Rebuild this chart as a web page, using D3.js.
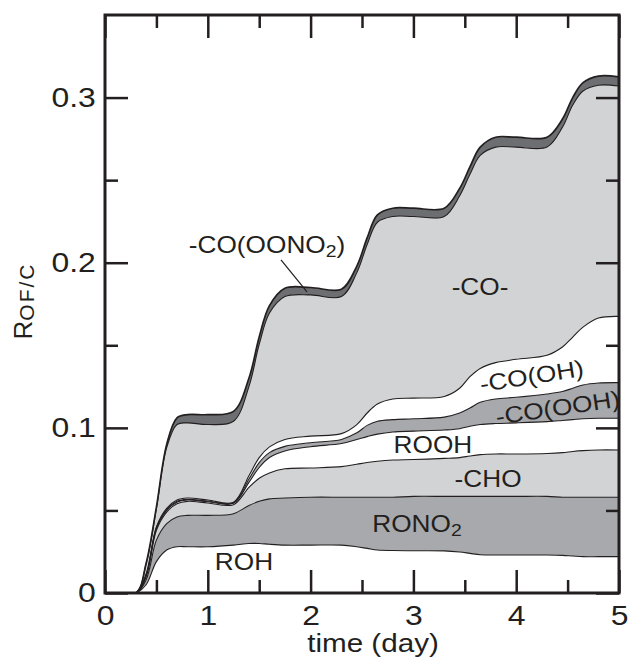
<!DOCTYPE html>
<html>
<head>
<meta charset="utf-8">
<script src="https://d3js.org/d3.v7.min.js"></script>
<style>
body { margin: 0; background: #fff; }
svg text { font-family: "Liberation Sans", Arial, sans-serif; fill: #231f20; }
</style>
</head>
<body>
<svg id="chart" width="630" height="661"></svg>
<script>
// time axis (day) at which the layer thicknesses were read
var days = [0, 0.3, 0.4, 0.5, 0.6, 0.7, 0.8, 1.0, 1.25, 1.4, 1.5, 1.6, 1.75, 2.0, 2.3, 2.45,
            2.55, 2.65, 2.8, 3.0, 3.3, 3.45, 3.55, 3.65, 3.8, 4.0, 4.3, 4.45, 4.55, 4.65, 4.8, 5.0];

// contribution of each functional group to R_OF/C (stacked bottom -> top)
var roh = [0, 0, 0.005, 0.019, 0.026, 0.028, 0.028, 0.028, 0.029, 0.030, 0.030, 0.0295, 0.029, 0.029, 0.029, 0.028,
           0.027, 0.026, 0.0257, 0.0256, 0.0255, 0.0248, 0.024, 0.0232, 0.023, 0.023, 0.023, 0.0228, 0.0224, 0.022, 0.022, 0.022];
var rono2 = [0, 0, 0.003, 0.013, 0.016, 0.018, 0.019, 0.019, 0.019, 0.023, 0.0255, 0.0275, 0.0285, 0.029, 0.029, 0.030,
             0.031, 0.032, 0.0323, 0.0329, 0.033, 0.0337, 0.0345, 0.0353, 0.0355, 0.0355, 0.0355, 0.0352, 0.0356, 0.036, 0.036, 0.036];
var cho = [0, 0, 0.002, 0.006, 0.007, 0.008, 0.0085, 0.0075, 0.0055, 0.011, 0.014, 0.0157, 0.0177, 0.0177, 0.0185, 0.020,
           0.021, 0.0218, 0.0225, 0.0223, 0.023, 0.0235, 0.0245, 0.0253, 0.0257, 0.0257, 0.026, 0.027, 0.0277, 0.0282, 0.0286, 0.0286];
var rooh = [0, 0, 0.0005, 0.001, 0.001, 0.001, 0.0008, 0.0008, 0.0008, 0.003, 0.0065, 0.0093, 0.0108, 0.0129, 0.014, 0.015,
            0.0157, 0.0164, 0.017, 0.0172, 0.0172, 0.0175, 0.018, 0.0182, 0.0184, 0.0188, 0.0193, 0.0195, 0.0193, 0.0193, 0.0192, 0.0192];
var coooh = [0, 0, 0.0005, 0.0005, 0.0005, 0.0005, 0.0004, 0.0004, 0.0003, 0.002, 0.003, 0.003, 0.0028, 0.0024, 0.0025, 0.004,
             0.0068, 0.0078, 0.0075, 0.0075, 0.0078, 0.0095, 0.011, 0.0135, 0.0149, 0.0155, 0.0167, 0.0175, 0.019, 0.0205, 0.0214, 0.0216];
var cooh = [0, 0, 0.0005, 0.0005, 0.0007, 0.0008, 0.0008, 0.0006, 0.0004, 0.002, 0.003, 0.0035, 0.0042, 0.004, 0.0035, 0.005,
            0.0075, 0.0105, 0.0125, 0.0125, 0.0125, 0.015, 0.019, 0.0205, 0.022, 0.023, 0.0235, 0.027, 0.031, 0.035, 0.0393, 0.0401];
var co = [0, 0, 0.006, 0.011, 0.0368, 0.0457, 0.0455, 0.0457, 0.049, 0.054, 0.0685, 0.081, 0.0865, 0.0855, 0.083, 0.092,
          0.102, 0.110, 0.1105, 0.110, 0.109, 0.1165, 0.1225, 0.129, 0.1305, 0.1285, 0.126, 0.133, 0.1405, 0.143, 0.141, 0.1395];
var cooono2 = [0, 0, 0.0005, 0.001, 0.002, 0.004, 0.005, 0.006, 0.006, 0.005, 0.0045, 0.0045, 0.005, 0.0045, 0.0045, 0.004,
               0.004, 0.0045, 0.005, 0.005, 0.005, 0.0045, 0.0045, 0.005, 0.006, 0.006, 0.006, 0.005, 0.0045, 0.005, 0.0055, 0.0055];

var seriesKeys = ["roh", "rono2", "cho", "rooh", "coooh", "cooh", "co", "cooono2"];
var seriesData = [roh, rono2, cho, rooh, coooh, cooh, co, cooono2];
var seriesFills = ["#ffffff", "#a7a9ac", "#d1d3d4", "#ffffff", "#a7a9ac", "#ffffff", "#d1d3d4", "#6d6e71"];

// tick labels
var xMajorTicks = [0, 1, 2, 3, 4, 5];
var xMinorTicks = [0.5, 1.5, 2.5, 3.5, 4.5];
var yMajorTicks = [0, 0.1, 0.2, 0.3];
var yMinorTicks = [0.05, 0.15, 0.25];

// in-plot labels: text pieces ([text, isSubscript]), position in data units, rotation
var labelParts = [
    [["-CO(OONO", 0], ["2", 1], [")", 0]],
    [["-CO-", 0]],
    [["-CO(OH)", 0]],
    [["-CO(OOH)", 0]],
    [["ROOH", 0]],
    [["-CHO", 0]],
    [["RONO", 0], ["2", 1]],
    [["ROH", 0]]
];
var labelDay = [1.576, 3.648, 4.163, 4.416, 3.19, 3.726, 3.035, 1.352];
var labelValue = [0.206, 0.1805, 0.1266, 0.1074, 0.0848, 0.0642, 0.0369, 0.0139];
var labelAngle = [0, 0, -9, -8.5, 0, 0, 0, 0];
// leader line from -CO(OONO2) label to its band
var leaderDay = [1.712, 1.965];
var leaderValue = [0.2017, 0.1823];

var ink = "#231f20";
var stretch = "scale(1.14,1)";

var margin = {top: 15, right: 11, bottom: 68, left: 105},
    width = 630 - margin.left - margin.right,
    height = 661 - margin.top - margin.bottom;

var svg = d3.select("#chart");
var g = svg.append("g")
    .attr("transform", "translate(" + margin.left + "," + margin.top + ")");

var x = d3.scaleLinear().domain([0, 5]).range([0, width]);
var y = d3.scaleLinear().domain([0, 0.35]).range([height, 0]);

// build rows for the stack
var rows = days.map(function(t, i) {
    var row = {t: t};
    seriesKeys.forEach(function(k, j) { row[k] = seriesData[j][i]; });
    return row;
});
var stacked = d3.stack().keys(seriesKeys)(rows);

g.append("clipPath").attr("id", "plotclip")
    .append("rect").attr("width", width).attr("height", height);

var plot = g.append("g").attr("clip-path", "url(#plotclip)");

var curve = d3.curveCatmullRom.alpha(0.5);

var area = d3.area()
    .curve(curve)
    .x(function(d) { return x(d.data.t); })
    .y0(function(d) { return y(d[0]); })
    .y1(function(d) { return y(d[1]); });

var edge = d3.line()
    .curve(curve)
    .x(function(d) { return x(d.data.t); })
    .y(function(d) { return y(d[1]); });

plot.selectAll(".layer")
    .data(stacked)
    .enter().append("path")
    .attr("class", "layer")
    .attr("fill", function(d, i) { return seriesFills[i]; })
    .attr("d", area);

plot.selectAll(".edge")
    .data(stacked)
    .enter().append("path")
    .attr("class", "edge")
    .attr("fill", "none")
    .attr("stroke", ink)
    .attr("stroke-width", function(d, i) { return i === seriesKeys.length - 1 ? 1.7 : 1.1; })
    .attr("d", edge);

// axes: ticks point inward on all four sides
function tidy(sel) {
    sel.select(".domain").remove();
    sel.selectAll("line").attr("stroke", ink).attr("stroke-width", 2.5);
    sel.selectAll("text").attr("font-size", 28).attr("fill", ink).attr("transform", stretch);
}

g.append("g").attr("transform", "translate(0," + height + ")")
    .call(d3.axisBottom(x).tickValues(xMajorTicks).tickSizeInner(-23).tickSizeOuter(0)
        .tickPadding(12).tickFormat(d3.format("d")))
    .call(tidy);
g.append("g").attr("transform", "translate(0," + height + ")")
    .call(d3.axisBottom(x).tickValues(xMinorTicks).tickSizeInner(-13).tickSizeOuter(0).tickFormat(""))
    .call(tidy);
g.append("g")
    .call(d3.axisTop(x).tickValues(xMajorTicks).tickSizeInner(-23).tickSizeOuter(0).tickFormat(""))
    .call(tidy);
g.append("g")
    .call(d3.axisTop(x).tickValues(xMinorTicks).tickSizeInner(-13).tickSizeOuter(0).tickFormat(""))
    .call(tidy);

g.append("g")
    .call(d3.axisLeft(y).tickValues(yMajorTicks).tickSizeInner(-23).tickSizeOuter(0).tickPadding(8)
        .tickFormat(function(d) { return d === 0 ? "0" : d3.format(".1f")(d); }))
    .call(tidy);
g.append("g")
    .call(d3.axisLeft(y).tickValues(yMinorTicks).tickSizeInner(-13).tickSizeOuter(0).tickFormat(""))
    .call(tidy);
g.append("g").attr("transform", "translate(" + width + ",0)")
    .call(d3.axisRight(y).tickValues(yMajorTicks).tickSizeInner(-23).tickSizeOuter(0).tickFormat(""))
    .call(tidy);
g.append("g").attr("transform", "translate(" + width + ",0)")
    .call(d3.axisRight(y).tickValues(yMinorTicks).tickSizeInner(-13).tickSizeOuter(0).tickFormat(""))
    .call(tidy);

// frame
g.append("rect")
    .attr("width", width)
    .attr("height", height)
    .attr("fill", "none")
    .attr("stroke", ink)
    .attr("stroke-width", 3);

// labels inside the plot
labelParts.forEach(function(parts, i) {
    var lg = g.append("g")
        .attr("transform", "translate(" + x(labelDay[i]) + "," + y(labelValue[i]) + ") rotate(" + labelAngle[i] + ") " + stretch);
    var txt = lg.append("text")
        .attr("text-anchor", "middle")
        .attr("font-size", 23);
    var shift = 0;
    parts.forEach(function(p) {
        var ts = txt.append("tspan").text(p[0]);
        if (p[1]) {
            ts.attr("font-size", 17).attr("dy", 4);
            shift = 4;
        } else if (shift) {
            ts.attr("dy", -shift);
            shift = 0;
        }
    });
});

g.append("line")
    .attr("x1", x(leaderDay[0])).attr("y1", y(leaderValue[0]))
    .attr("x2", x(leaderDay[1])).attr("y2", y(leaderValue[1]))
    .attr("stroke", ink)
    .attr("stroke-width", 1.2);

// axis titles
svg.append("g")
    .attr("transform", "translate(373,652) " + stretch)
    .append("text")
    .attr("text-anchor", "middle")
    .attr("font-size", 26)
    .text("time (day)");

var ylab = svg.append("text")
    .attr("transform", "translate(32,301) rotate(-90)")
    .attr("text-anchor", "middle");
ylab.append("tspan").attr("font-size", 26).text("R");
ylab.append("tspan").attr("font-size", 21).attr("letter-spacing", 2).attr("dy", 2).text("OF/C");
</script>
</body>
</html>
